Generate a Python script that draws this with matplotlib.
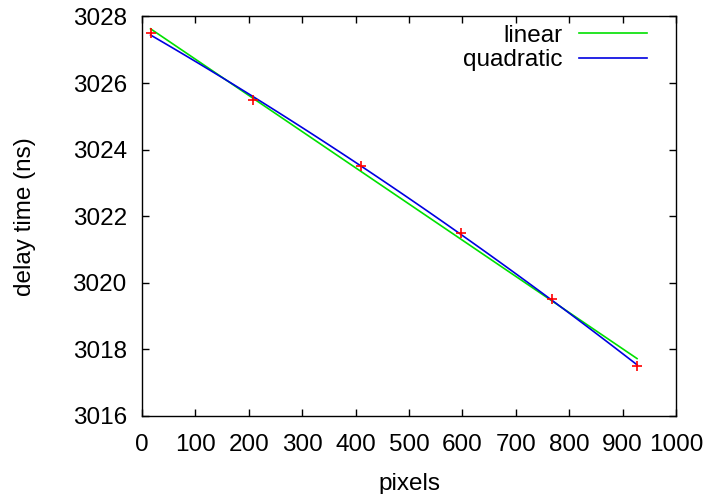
import numpy as np
import matplotlib
matplotlib.use('Agg')
import matplotlib.pyplot as plt

# measured points
pixels = [16, 207, 411, 598, 768, 927]
delay = [3027.5, 3025.5, 3023.5, 3021.5, 3019.5, 3017.5]

xticks = [0, 100, 200, 300, 400, 500, 600, 700, 800, 900, 1000]
yticks = [3016, 3018, 3020, 3022, 3024, 3026, 3028]

plt.rcParams['font.family'] = ['Liberation Sans', 'DejaVu Sans']
plt.rcParams['font.size'] = 17.5

fig = plt.figure(figsize=(7.09, 4.94), dpi=100)
ax = fig.add_axes([0.2003, 0.1579, 0.7532, 0.8087])

x = np.array(pixels, dtype=float)
y = np.array(delay, dtype=float)
xs = np.linspace(x[0], x[-1], 100)

lin = np.polyfit(x, y, 1)
quad = np.polyfit(x, y, 2)

ax.plot(x, y, '+', color='red', markersize=7, markeredgewidth=1.2, zorder=3)
ax.plot(xs, np.polyval(lin, xs), color='#00e000', lw=1.2, label='linear')
ax.plot(xs, np.polyval(quad, xs), color='#0000e0', lw=1.2, label='quadratic')

ax.set_xlim(0, 1000)
ax.set_ylim(3016, 3028)
ax.set_xticks(xticks)
ax.set_yticks(yticks)
ax.tick_params(direction='in', length=5, width=1, top=True, right=True)
ax.tick_params(axis='y', pad=11)
ax.tick_params(axis='x', pad=13)
for s in ax.spines.values():
    s.set_linewidth(1)

ax.set_xlabel('pixels', labelpad=12)
ax.set_ylabel('delay time (ns)', labelpad=26)

ax.legend(loc='upper right', frameon=False, markerfirst=False,
          handlelength=2.8, handletextpad=0.7, labelspacing=0.12,
          borderpad=0, borderaxespad=0, bbox_to_anchor=(0.946, 0.98))

fig.savefig('out.png', dpi=100)
